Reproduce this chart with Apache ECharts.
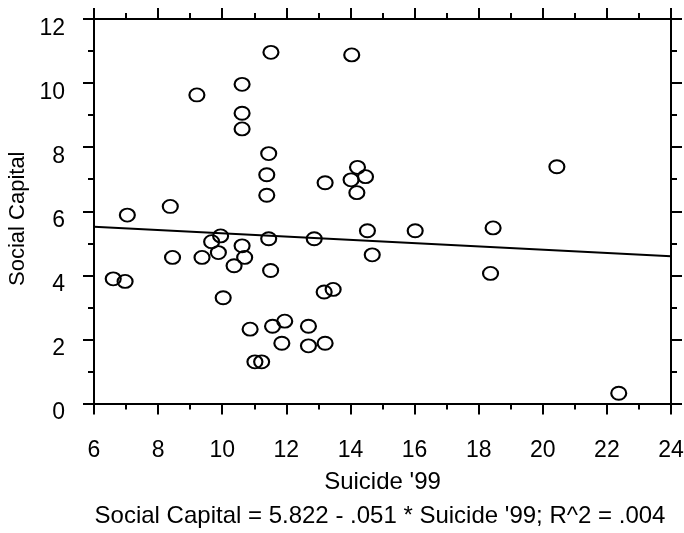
<!DOCTYPE html>
<html>
<head>
<meta charset="utf-8">
<script src="https://cdn.jsdelivr.net/npm/echarts@6/dist/echarts.min.js"></script>
<style>
html,body{margin:0;padding:0;background:#fff;}
#chart{width:684px;height:533px;}
</style>
</head>
<body>
<div id="chart"></div>
<script>
// Data
const suicide99 = [11.52, 14.04, 9.21, 10.62, 10.62, 10.62, 11.45, 11.39, 11.39, 13.21,
  14.22, 14.02, 14.47, 14.20, 7.04, 8.38, 20.44, 9.95, 9.67, 9.88,
  8.45, 9.37, 10.62, 10.70, 10.37, 11.45, 11.51, 12.87, 14.53, 14.68,
  6.60, 6.97, 10.03, 13.18, 13.46, 10.87, 11.57, 11.95, 12.69, 11.86,
  12.69, 13.21, 11.02, 11.23, 16.02, 18.45, 18.37, 22.37];
const socialCapital = [10.96, 10.88, 9.63, 9.96, 9.06, 8.57, 7.80, 7.14, 6.50, 6.89,
  7.37, 6.98, 7.08, 6.58, 5.88, 6.15, 7.39, 5.23, 5.05, 4.71,
  4.56, 4.56, 4.92, 4.56, 4.30, 5.14, 4.15, 5.14, 5.39, 4.64,
  3.89, 3.81, 3.30, 3.48, 3.56, 2.32, 2.41, 2.57, 2.41, 1.88,
  1.80, 1.88, 1.30, 1.30, 5.39, 5.48, 4.06, 0.32];
// Fit line: Social Capital = 5.822 - .051 * Suicide '99
const fitIntercept = 5.822;
const fitSlope = -0.051;
const xRange = [6, 24];
const yRange = [0, 12];
const tickStep = 2;
const xName = "Suicide '99";
const yName = "Social Capital";
const equationText = "Social Capital = 5.822 - .051 * Suicide '99; R^2 = .004";

const FONT = "'Liberation Sans', Arial, Helvetica, sans-serif";
const scatterData = suicide99.map((x, i) => [x, socialCapital[i]]);
const fitData = xRange.map(x => [x, fitIntercept + fitSlope * x]);

const axisCommon = {
  type: 'value',
  interval: tickStep,
  axisLine: { show: true, onZero: false, lineStyle: { color: '#000', width: 2 } },
  axisTick: { show: true, inside: false, length: 11, lineStyle: { color: '#000', width: 2 } },
  minorTick: { show: true, splitNumber: 2, length: 6, lineStyle: { color: '#000', width: 2 } },
  splitLine: { show: false },
  minorSplitLine: { show: false }
};

const chart = echarts.init(document.getElementById('chart'), null, { renderer: 'canvas' });
chart.setOption({
  animation: false,
  backgroundColor: '#fff',
  grid: { left: 94, right: 13, top: 19, bottom: 129.5, containLabel: false, outerBoundsMode: 'none' },
  xAxis: [
    Object.assign({}, axisCommon, {
      position: 'bottom', min: xRange[0], max: xRange[1],
      name: xName, nameLocation: 'middle', nameGap: 67,
      nameTextStyle: { color: '#000', fontSize: 24, fontFamily: FONT },
      axisLabel: { show: true, margin: 36, color: '#000', fontSize: 23, fontFamily: FONT }
    }),
    Object.assign({}, axisCommon, {
      position: 'top', min: xRange[0], max: xRange[1],
      axisLabel: { show: false }
    })
  ],
  yAxis: [
    Object.assign({}, axisCommon, {
      position: 'left', min: yRange[0], max: yRange[1],
      name: yName, nameLocation: 'middle', nameGap: 62,
      nameTextStyle: { color: '#000', fontSize: 22, fontFamily: FONT, padding: [0, 15, 0, 0] },
      axisLabel: { show: true, margin: 29, color: '#000', fontSize: 23, fontFamily: FONT,
                   verticalAlign: 'top', lineHeight: 19 }
    }),
    Object.assign({}, axisCommon, {
      position: 'right', min: yRange[0], max: yRange[1],
      axisLabel: { show: false }
    })
  ],
  series: [
    {
      type: 'line',
      data: fitData,
      xAxisIndex: 0, yAxisIndex: 0,
      symbol: 'none',
      lineStyle: { color: '#000', width: 2 },
      z: 2
    },
    {
      type: 'scatter',
      data: scatterData,
      xAxisIndex: 0, yAxisIndex: 0,
      symbol: 'circle',
      symbolSize: [15, 13],
      itemStyle: { color: 'rgba(0,0,0,0)', borderColor: '#000', borderWidth: 2, opacity: 1 },
      z: 3
    }
  ],
  graphic: [
    {
      type: 'text',
      x: 380, y: 516,
      style: {
        text: equationText,
        fill: '#000',
        fontSize: 24,
        fontFamily: FONT,
        align: 'center',
        verticalAlign: 'middle'
      }
    }
  ]
});
</script>
</body>
</html>
